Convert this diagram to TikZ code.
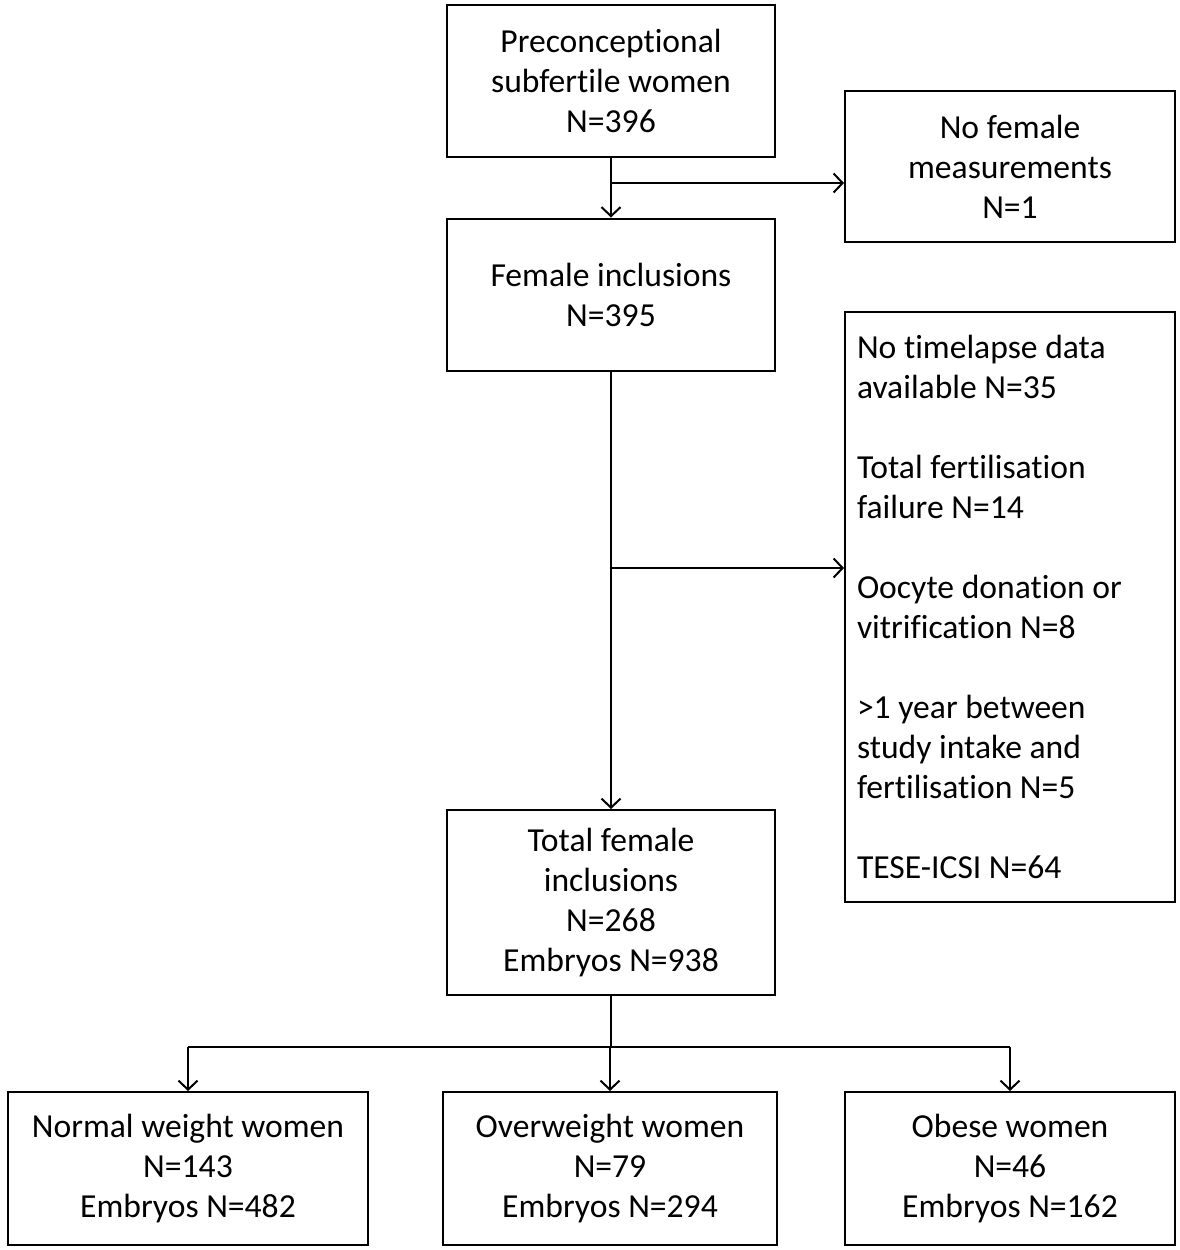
\documentclass[tikz,border=0pt]{standalone}
\usepackage{fontspec}
\setmainfont{Carlito}[Ligatures=NoCommon]
\usetikzlibrary{arrows.meta}
\begin{document}
\begin{tikzpicture}
  [x=0.5pt,y=-0.5pt,line width=1pt,>={Straight Barb[length=4.5pt,width=9.5pt]},
   every node/.style={draw,align=center,inner sep=4pt,font=\fontsize{16.8}{20}\selectfont}]
  \tikzstyle{box} = [minimum width=164pt,minimum height=76pt]
  \tikzstyle{side} = [minimum width=165pt,minimum height=75.5pt]
  \useasboundingbox (0,0) rectangle (1180,1250);
  \node[box] (pre) at (611,81) {Preconceptional\\subfertile women\\N=396};
  \node[side] (nofem) at (1010,166.5) {No female\\measurements\\N=1};
  \node[box] (fem) at (611,294.5) {Female inclusions\\N=395};
  \node[minimum width=165pt,minimum height=295pt,text width=153pt,inner sep=6pt,align=flush left]
    (excl) at (1010,607) {No timelapse data\\available N=35\\[20pt]
    Total fertilisation\\failure N=14\\[20pt]
    Oocyte donation or\\vitrification N=8\\[20pt]
    >1 year between\\study intake and\\fertilisation N=5\\[20pt]
    TESE-ICSI N=64};
  \node[box,minimum height=92.5pt] (tot) at (611,902.5) {Total female\\inclusions\\N=268\\Embryos N=938};
  \node[minimum width=180pt,minimum height=76.5pt] (normal) at (188,1168.5) {Normal weight women\\N=143\\Embryos N=482};
  \node[minimum width=167pt,minimum height=76.5pt] (over) at (610,1168.5) {Overweight women\\N=79\\Embryos N=294};
  \node[minimum width=165pt,minimum height=76.5pt] (obese) at (1010,1168.5) {Obese women\\N=46\\Embryos N=162};
  \coordinate (b1) at (611,183);
  \coordinate (b2) at (611,568);
  \coordinate (b3) at (611,1047);
  \draw[->] (pre) -- (pre |- fem.north);
  \draw[->] (b1) -- (b1 -| nofem.west);
  \draw[->] (fem) -- (fem |- tot.north);
  \draw[->] (b2) -- (b2 -| excl.west);
  \draw (tot) -- (b3);
  \draw (b3 -| normal) -- (b3 -| obese);
  \foreach \dest in {normal,over,obese}
   \draw[->] (b3 -| \dest) -- (\dest);
\end{tikzpicture}
\end{document}
